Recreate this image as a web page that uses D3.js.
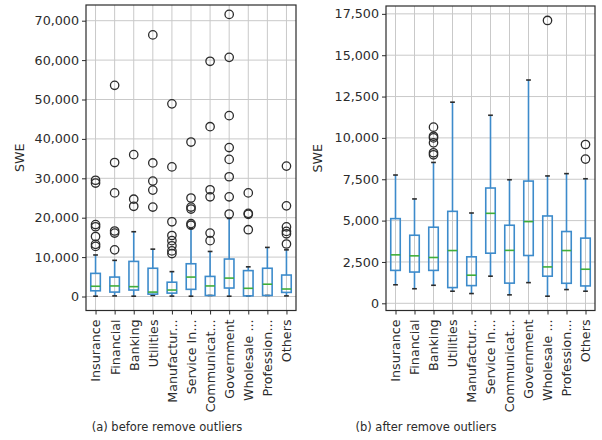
<!DOCTYPE html>
<html>
<head>
<meta charset="utf-8">
<script src="https://cdn.jsdelivr.net/npm/d3@7"></script>
<style>
  body { margin: 0; background: #fff; }
  svg text { font-family: "DejaVu Sans", sans-serif; }
</style>
</head>
<body>
<div id="chart"></div>
<script>
// categories (tick labels are truncated like the original figure)
var categories = ["Insurance", "Financial", "Banking", "Utilities", "Manufactur...", "Service In...",
  "Communicat...", "Government", "Wholesale ...", "Profession...", "Others"];

// (a) before remove outliers
var beforeLo  = [80, 150, 80, 260, 100, 80, 260, 80, 160, 260, 150];
var beforeQ1  = [1450, 1120, 1640, 600, 860, 1820, 260, 2150, 160, 260, 1040];
var beforeMed = [2600, 2680, 2500, 1120, 1640, 4930, 2680, 4670, 2080, 3120, 1900];
var beforeQ3  = [5870, 4930, 8910, 7170, 3630, 8310, 5100, 9510, 6570, 7170, 5450];
var beforeHi  = [10540, 9170, 16440, 12020, 6310, 17220, 11430, 19810, 7530, 12460, 11840];
var beforeOut = [
  [29500, 28800, 18260, 17700, 15220, 13240, 12720],
  [53600, 34000, 26300, 16620, 16100, 11840],
  [36000, 24700, 22900],
  [66400, 33900, 29300, 27000, 22700],
  [48900, 32900, 18960, 15480, 14180, 12880, 11580, 10900],
  [39200, 25000, 22700, 22200, 18500, 18100],
  [59700, 43100, 27100, 25300, 16100, 14180],
  [71600, 60700, 45900, 37800, 34800, 30400, 25300, 20930],
  [26300, 21110, 20860, 16950],
  [],
  [33100, 23010, 17660, 16520, 15920, 13320]
];
var beforeTicks = [0, 10000, 20000, 30000, 40000, 50000, 60000, 70000];

// (b) after remove outliers
var afterLo  = [1120, 880, 1090, 730, 590, 1640, 510, 1250, 430, 830, 730];
var afterQ1  = [1990, 1890, 1990, 950, 1070, 3030, 1220, 2890, 1640, 1210, 1050];
var afterMed = [2930, 2870, 2770, 3190, 1700, 5440, 3200, 4940, 2200, 3190, 2060];
var afterQ3  = [5120, 4115, 4600, 5560, 2810, 6970, 4720, 7390, 5280, 4340, 3940];
var afterHi  = [7756, 6310, 8516, 12160, 5460, 11370, 7470, 13500, 7700, 7840, 7530];
var afterOut = [
  [], [], [10650, 10100, 10000, 9700, 9100, 8980], [], [], [], [], [], [17100], [], [9600, 8720]
];
var afterTicks = [0, 2500, 5000, 7500, 10000, 12500, 15000, 17500];

var W = 602, H = 440;
var svg = d3.select("#chart").append("svg")
  .attr("width", W).attr("height", H);

var boxColor = "#3d8bcb", medColor = "#3fae3a", ink = "#2b2b2b";
var font = "DejaVu Sans, sans-serif";

function panel(opts) {
  var x = d3.scalePoint().domain(categories).range([opts.left, opts.right]).padding(0.5);
  var y = d3.scaleLinear().domain(opts.domain).range([opts.bottom, opts.top]);
  var step = x.step();
  var g = svg.append("g");

  // grid
  g.selectAll("line.gy").data(opts.ticks).enter().append("line")
    .attr("x1", opts.left).attr("x2", opts.right)
    .attr("y1", function(d) { return y(d); }).attr("y2", function(d) { return y(d); })
    .attr("stroke", "#c9c9c9").attr("stroke-width", 1);
  g.selectAll("line.gx").data(categories).enter().append("line")
    .attr("x1", function(d) { return x(d); }).attr("x2", function(d) { return x(d); })
    .attr("y1", opts.top).attr("y2", opts.bottom)
    .attr("stroke", "#c9c9c9").attr("stroke-width", 1);

  var bw = step * 0.5, cw = step * 0.25;
  var rows = categories.map(function(c, i) {
    return {c: c, lo: opts.lo[i], q1: opts.q1[i], med: opts.med[i], q3: opts.q3[i], hi: opts.hi[i], out: opts.out[i]};
  });
  var b = g.selectAll("g.box").data(rows).enter().append("g");

  // whiskers
  b.append("line").attr("x1", function(d) { return x(d.c); }).attr("x2", function(d) { return x(d.c); })
    .attr("y1", function(d) { return y(d.q3); }).attr("y2", function(d) { return y(d.hi); })
    .attr("stroke", boxColor).attr("stroke-width", 1.6);
  b.append("line").attr("x1", function(d) { return x(d.c); }).attr("x2", function(d) { return x(d.c); })
    .attr("y1", function(d) { return y(d.q1); }).attr("y2", function(d) { return y(d.lo); })
    .attr("stroke", boxColor).attr("stroke-width", 1.6);
  // caps
  ["hi", "lo"].forEach(function(k) {
    b.append("line").attr("x1", function(d) { return x(d.c) - cw / 2; }).attr("x2", function(d) { return x(d.c) + cw / 2; })
      .attr("y1", function(d) { return y(d[k]); }).attr("y2", function(d) { return y(d[k]); })
      .attr("stroke", ink).attr("stroke-width", 1.6);
  });
  // box
  b.append("rect").attr("x", function(d) { return x(d.c) - bw / 2; }).attr("width", bw)
    .attr("y", function(d) { return y(d.q3); })
    .attr("height", function(d) { return y(d.q1) - y(d.q3); })
    .attr("fill", "none").attr("stroke", boxColor).attr("stroke-width", 1.6);
  // median
  b.append("line").attr("x1", function(d) { return x(d.c) - bw / 2; }).attr("x2", function(d) { return x(d.c) + bw / 2; })
    .attr("y1", function(d) { return y(d.med); }).attr("y2", function(d) { return y(d.med); })
    .attr("stroke", medColor).attr("stroke-width", 1.6);
  // fliers
  b.selectAll("circle").data(function(d) { return d.out.map(function(v) { return {c: d.c, v: v}; }); })
    .enter().append("circle")
    .attr("cx", function(d) { return x(d.c); }).attr("cy", function(d) { return y(d.v); })
    .attr("r", 4.2).attr("fill", "none").attr("stroke", ink).attr("stroke-width", 1.3);

  // frame
  g.append("rect").attr("x", opts.left).attr("y", opts.top)
    .attr("width", opts.right - opts.left).attr("height", opts.bottom - opts.top)
    .attr("fill", "none").attr("stroke", ink).attr("stroke-width", 1.2);

  // axes
  var yAxis = d3.axisLeft(y).tickValues(opts.ticks).tickFormat(d3.format(",")).tickSizeOuter(0).tickSize(4).tickPadding(3);
  var ya = g.append("g").attr("transform", "translate(" + opts.left + ",0)").call(yAxis);
  var xAxis = d3.axisBottom(x).tickSizeOuter(0).tickSize(4).tickPadding(3);
  var xa = g.append("g").attr("transform", "translate(0," + opts.bottom + ")").call(xAxis);
  [ya, xa].forEach(function(a) {
    a.attr("font-family", font);
    a.select(".domain").remove();
    a.selectAll(".tick line").attr("stroke", ink).attr("stroke-width", 1);
    a.selectAll("text").attr("fill", ink).style("font-size", "12.7px").style("font-family", font);
  });
  xa.selectAll(".tick text")
    .attr("transform", "rotate(-90)")
    .attr("text-anchor", "end")
    .attr("x", -9).attr("y", 0).attr("dy", "0.35em");

  g.append("text").attr("transform", "translate(" + opts.ylab + "," + ((opts.top + opts.bottom) / 2) + ") rotate(-90)")
    .attr("text-anchor", "middle").attr("fill", ink).style("font-size", "12.7px").text("SWE");
  g.append("text").attr("x", opts.capX).attr("y", 431)
    .attr("text-anchor", "middle").attr("fill", ink).style("font-size", "11.5px").text(opts.caption);
}

panel({left: 86, right: 296, top: 5, bottom: 310.5, domain: [-3553, 73985], ticks: beforeTicks,
  lo: beforeLo, q1: beforeQ1, med: beforeMed, q3: beforeQ3, hi: beforeHi, out: beforeOut,
  ylab: 24, capX: 167, caption: "(a) before remove outliers"});
panel({left: 386, right: 595, top: 6, bottom: 310.5, domain: [-435, 17975], ticks: afterTicks,
  lo: afterLo, q1: afterQ1, med: afterMed, q3: afterQ3, hi: afterHi, out: afterOut,
  ylab: 322, capX: 426, caption: "(b) after remove outliers"});
</script>
</body>
</html>
